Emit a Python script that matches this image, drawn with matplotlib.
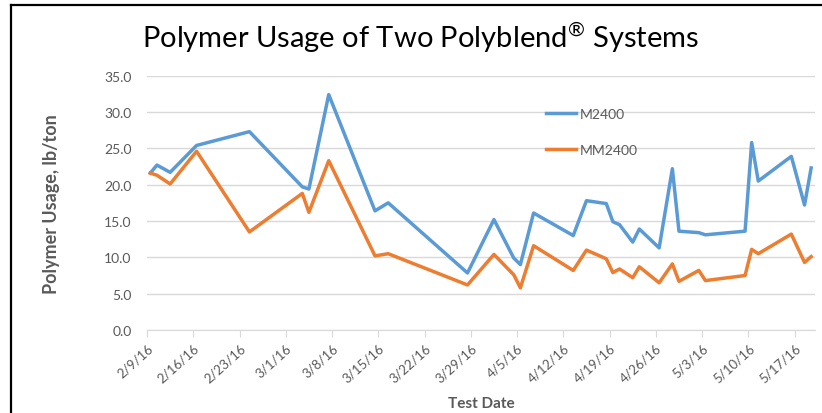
import matplotlib
matplotlib.use("Agg")
import matplotlib.pyplot as plt
import matplotlib.dates as mdates
from matplotlib.lines import Line2D
import pandas as pd

# test dates and polymer usage (lb/ton)
test_dates = ["2016-02-09", "2016-02-10", "2016-02-12", "2016-02-16", "2016-02-24",
              "2016-03-03", "2016-03-04", "2016-03-07", "2016-03-14", "2016-03-16",
              "2016-03-28", "2016-04-01", "2016-04-04", "2016-04-05", "2016-04-07",
              "2016-04-13", "2016-04-15", "2016-04-18", "2016-04-19", "2016-04-20",
              "2016-04-22", "2016-04-23", "2016-04-26", "2016-04-28", "2016-04-29",
              "2016-05-02", "2016-05-03", "2016-05-09", "2016-05-10", "2016-05-11",
              "2016-05-16", "2016-05-18", "2016-05-19"]
m2400 = [21.6, 22.7, 21.7, 25.4, 27.3, 19.7, 19.4, 32.4, 16.4, 17.5,
         7.85, 15.2, 9.9, 9.0, 16.1, 13.0, 17.8, 17.4, 14.9, 14.5,
         12.1, 13.9, 11.3, 22.2, 13.6, 13.4, 13.1, 13.6, 25.8, 20.5,
         23.9, 17.2, 22.3]
mm2400 = [21.6, 21.3, 20.1, 24.6, 13.5, 18.8, 16.2, 23.3, 10.2, 10.5,
          6.2, 10.4, 7.6, 5.8, 11.6, 8.2, 11.0, 9.8, 7.9, 8.4,
          7.2, 8.7, 6.5, 9.1, 6.7, 8.2, 6.8, 7.5, 11.1, 10.5,
          13.2, 9.3, 10.1]
tick_dates = pd.date_range("2016-02-09", "2016-05-17", freq="7D")

gray = "#595959"
font = ["Lato", "DejaVu Sans"]
plt.rcParams["font.family"] = font
plt.rcParams["mathtext.fontset"] = "custom"
plt.rcParams["mathtext.rm"] = "Lato"

fig = plt.figure(figsize=(8.22, 4.14), dpi=100)
ax = fig.add_axes([147 / 822, 1 - 331 / 414, (815 - 147) / 822, (331 - 76.7) / 414])

# excel date axis puts points between tick marks -> shift half a day
x = pd.to_datetime(test_dates) + pd.Timedelta(hours=12)
ax.plot(x, m2400, color="#5B9BD5", lw=2.5, label="M2400", solid_joinstyle="round")
ax.plot(x, mm2400, color="#ED7D31", lw=2.5, label="MM2400", solid_joinstyle="round")

ax.set_ylim(0, 35)
ax.set_yticks(range(0, 36, 5))
ax.set_yticklabels([f"{v:.1f}" for v in range(0, 36, 5)])
ax.set_xlim(tick_dates[0], pd.Timestamp("2016-05-20") + pd.Timedelta(hours=2))
ax.set_xticks(tick_dates)
ax.xaxis.set_major_formatter(mdates.DateFormatter("%-m/%-d/%y"))
plt.setp(ax.get_xticklabels(), rotation=42, ha="right", rotation_mode="anchor")

ax.grid(axis="y", color="#D9D9D9", lw=1)
ax.set_axisbelow(True)
for s in ["top", "right", "left"]:
    ax.spines[s].set_visible(False)
ax.spines["bottom"].set_color("#D9D9D9")
ax.tick_params(axis="x", colors=gray, labelsize=9.5, length=5, color="#D9D9D9", pad=3)
ax.tick_params(axis="y", colors=gray, labelsize=10, length=0, pad=11)

ax.set_ylabel("Polymer Usage, lb/ton", fontsize=13, fontweight="bold", color=gray, labelpad=32)
ax.set_xlabel("Test Date", fontsize=11, fontweight="bold", color=gray, labelpad=9)

fig.text(421 / 822, 1 - 38 / 414, r"Polymer Usage of Two Polyblend$^{\mathrm{®}}$ Systems",
         fontsize=21, ha="center", va="center", color="black")

ax.legend(loc="upper left", bbox_to_anchor=(533 / 822, 1 - 96 / 414),
          bbox_transform=fig.transFigure, frameon=False, fontsize=10,
          labelcolor=gray, handlelength=2.2, handletextpad=0.25, labelspacing=1.75)

# screenshot border on left and top
fig.add_artist(Line2D([11 / 822, 11 / 822], [0, 1 - 6 / 414], color="black", lw=1.6))
fig.add_artist(Line2D([11 / 822, 1], [1 - 6 / 414, 1 - 6 / 414], color="black", lw=1.6))

fig.savefig("out.png", dpi=100)
